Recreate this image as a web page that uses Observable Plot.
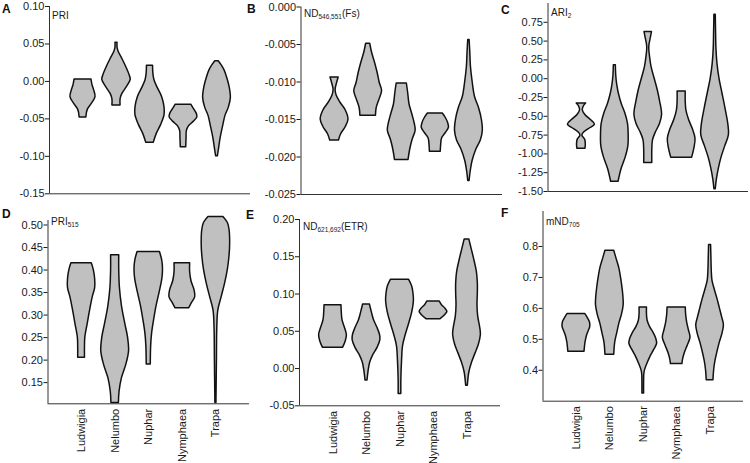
<!DOCTYPE html>
<html>
<head>
<meta charset="utf-8">
<script src="https://cdn.jsdelivr.net/npm/d3@7"></script>
<script src="https://cdn.jsdelivr.net/npm/@observablehq/plot@0.6"></script>
<style>
  body { margin: 0; background: #fff; }
  #root { position: relative; width: 750px; height: 463px; background: #fff; font-family: "Liberation Sans", Arial, sans-serif; color: #222; }
  .panel { position: absolute; overflow: visible; max-width: none !important; }
  .letter { position: absolute; font-weight: bold; font-size: 12px; line-height: 12px; color: #111; }
  .ttl { position: absolute; font-size: 10px; line-height: 12px; color: #1a1a1a; white-space: nowrap; }
  .ttl sub { font-size: 6.5px; vertical-align: baseline; position: relative; top: 2px; }
</style>
</head>
<body>
<div id="root"></div>
<script>
// Categories (x axis)
const species = ["Ludwigia", "Nelumbo", "Nuphar", "Nymphaea", "Trapa"];

// Violin outlines: [value, relative width] from top to bottom, one list per species
const pri = [
  [[0.0027,50],[-0.005,56],[-0.012,66],[-0.021,74],[-0.030,52],[-0.038,28],[-0.048,20]],
  [[0.0516,6],[0.045,6],[0.040,12],[0.032,30],[0.020,56],[0.008,78],[0.002,84],[-0.008,60],[-0.017,34],[-0.024,24],[-0.032,24]],
  [[0.021,18],[0.010,20],[0.002,26],[-0.008,44],[-0.021,72],[-0.035,86],[-0.045,86],[-0.058,66],[-0.070,40],[-0.082,22]],
  [[-0.031,46],[-0.037,62],[-0.043,78],[-0.048,82],[-0.054,60],[-0.060,32],[-0.066,20],[-0.076,18],[-0.088,16]],
  [[0.027,10],[0.022,26],[0.015,44],[0.005,60],[-0.007,74],[-0.022,82],[-0.035,70],[-0.046,50],[-0.060,36],[-0.075,22],[-0.090,12],[-0.100,5]]
];
const fs = [
  [[-0.0094,24],[-0.0102,14],[-0.0110,6],[-0.0118,12],[-0.0128,36],[-0.0138,66],[-0.0150,82],[-0.0160,66],[-0.0170,38],[-0.0178,26]],
  [[-0.0049,12],[-0.0060,22],[-0.0074,40],[-0.0088,56],[-0.0101,68],[-0.0112,82],[-0.0124,66],[-0.0135,50],[-0.0145,46]],
  [[-0.0102,30],[-0.0115,38],[-0.0130,46],[-0.0143,62],[-0.0155,76],[-0.0165,82],[-0.0177,64],[-0.0190,50],[-0.0204,40]],
  [[-0.0142,44],[-0.0148,62],[-0.0155,76],[-0.0161,80],[-0.0168,62],[-0.0175,40],[-0.0185,34],[-0.0193,32]],
  [[-0.0044,4],[-0.0060,8],[-0.0080,12],[-0.0100,22],[-0.0120,36],[-0.0135,60],[-0.0150,76],[-0.0165,82],[-0.0178,70],[-0.0190,44],[-0.0205,22],[-0.0220,10],[-0.0232,4]]
];
const ari2 = [
  [[-0.33,28],[-0.37,14],[-0.42,8],[-0.48,22],[-0.55,56],[-0.61,80],[-0.67,44],[-0.73,10],[-0.76,6],[-0.81,22],[-0.87,26],[-0.93,24]],
  [[0.18,6],[0.05,8],[-0.08,14],[-0.20,24],[-0.33,40],[-0.46,62],[-0.60,78],[-0.75,82],[-0.90,80],[-1.05,64],[-1.20,40],[-1.37,22]],
  [[0.62,22],[0.55,16],[0.42,6],[0.30,10],[0.15,20],[0.00,38],[-0.15,56],[-0.30,70],[-0.48,82],[-0.60,70],[-0.72,44],[-0.82,28],[-0.95,24],[-1.12,24]],
  [[-0.17,24],[-0.30,24],[-0.42,28],[-0.55,44],[-0.67,66],[-0.80,82],[-0.92,76],[-1.05,62]],
  [[0.85,4],[0.60,6],[0.40,8],[0.20,14],[0.00,26],[-0.20,44],[-0.40,62],[-0.60,78],[-0.75,82],[-0.90,60],[-1.05,38],[-1.20,22],[-1.35,10],[-1.47,4]]
];
const pri515 = [
  [[0.415,60],[0.400,72],[0.380,80],[0.360,80],[0.340,66],[0.310,50],[0.280,36],[0.250,22],[0.230,20],[0.205,20]],
  [[0.433,24],[0.40,24],[0.36,28],[0.32,40],[0.28,60],[0.25,76],[0.22,82],[0.19,66],[0.16,40],[0.13,26],[0.105,22]],
  [[0.440,66],[0.420,80],[0.400,84],[0.380,80],[0.350,64],[0.320,46],[0.290,32],[0.260,20],[0.230,14],[0.190,12]],
  [[0.415,46],[0.395,46],[0.375,54],[0.355,72],[0.340,76],[0.325,54],[0.315,40]],
  [[0.518,44],[0.505,70],[0.490,80],[0.460,84],[0.430,80],[0.400,70],[0.370,54],[0.340,34],[0.310,14],[0.270,8],[0.200,6],[0.105,3]]
];
const etr = [
  [[0.085,50],[0.075,52],[0.065,56],[0.055,70],[0.045,82],[0.037,76],[0.028,60]],
  [[0.086,20],[0.075,32],[0.065,44],[0.055,64],[0.045,80],[0.038,82],[0.028,66],[0.018,40],[0.008,22],[-0.004,12],[-0.016,6]],
  [[0.119,54],[0.110,72],[0.100,80],[0.090,82],[0.075,72],[0.060,54],[0.045,34],[0.030,18],[0.010,12],[-0.015,8],[-0.034,8]],
  [[0.090,36],[0.085,50],[0.080,72],[0.076,82],[0.072,70],[0.066,40]],
  [[0.173,14],[0.160,28],[0.145,44],[0.130,58],[0.115,64],[0.100,64],[0.085,62],[0.070,66],[0.055,78],[0.045,82],[0.032,70],[0.020,50],[0.008,30],[-0.005,14],[-0.023,5]]
];
const mnd705 = [
  [[0.582,52],[0.570,66],[0.555,80],[0.540,82],[0.525,72],[0.510,62],[0.490,54],[0.460,48]],
  [[0.786,26],[0.760,40],[0.730,56],[0.700,66],[0.670,74],[0.640,80],[0.610,82],[0.580,72],[0.550,56],[0.520,44],[0.490,32],[0.450,26]],
  [[0.603,22],[0.580,22],[0.560,26],[0.540,40],[0.520,62],[0.500,78],[0.485,82],[0.465,64],[0.445,44],[0.420,24],[0.395,8],[0.360,5],[0.325,5]],
  [[0.603,54],[0.580,56],[0.555,62],[0.530,72],[0.505,82],[0.480,66],[0.455,48],[0.435,38],[0.420,34]],
  [[0.805,6],[0.760,8],[0.720,10],[0.690,14],[0.660,28],[0.630,44],[0.600,58],[0.570,72],[0.545,82],[0.515,72],[0.490,58],[0.460,44],[0.430,32],[0.400,24],[0.368,20]]
];

// Y axis tick values
const ticksA = [0.10, 0.05, 0.00, -0.05, -0.10, -0.15];
const ticksB = [0.000, -0.005, -0.010, -0.015, -0.020, -0.025];
const ticksC = [0.75, 0.50, 0.25, 0.00, -0.25, -0.50, -0.75, -1.00, -1.25, -1.50];
const ticksD = [0.50, 0.45, 0.40, 0.35, 0.30, 0.25, 0.20, 0.15];
const ticksE = [0.20, 0.15, 0.10, 0.05, 0.00, -0.05];
const ticksF = [0.8, 0.7, 0.6, 0.5, 0.4];

const root = document.getElementById("root");

function rowsOf(profiles) {
  const rows = [];
  profiles.forEach((prof, i) => {
    prof.forEach(([v, d]) => rows.push({sp: species[i], v, lo: i - d / 198, hi: i + d / 198}));
  });
  return rows;
}

function panel(cfg) {
  const rows = rowsOf(cfg.data);
  const ymin = cfg.domain[0];
  const chart = Plot.plot({
    width: cfg.width, height: cfg.height,
    marginLeft: cfg.ml, marginRight: cfg.mr, marginTop: cfg.mt, marginBottom: cfg.mb,
    style: {fontSize: "11px", fontFamily: "'Liberation Sans', Arial, sans-serif", color: "#1a1a1a", background: "transparent", overflow: "visible"},
    x: cfg.bottom
      ? {domain: [-1, 5], ticks: [0, 1, 2, 3, 4], tickFormat: i => species[i], tickRotate: -90, tickSize: 0, tickPadding: 5, label: null}
      : {domain: [-1, 5], axis: null},
    y: {domain: cfg.domain, ticks: cfg.ticks, tickFormat: d => d.toFixed(cfg.digits), tickSize: 4, tickPadding: 1, label: null},
    marks: [
      Plot.areaX(rows, {y: "v", x1: "lo", x2: "hi", z: "sp", fill: "#c0c0c0", stroke: "#111", strokeWidth: 1.5, curve: "catmull-rom"}),
      Plot.ruleX([-1], {stroke: "#333", strokeWidth: 1}),
      Plot.ruleY([ymin], {stroke: "#333", strokeWidth: 1})
    ]
  });
  chart.classList.add("panel");
  chart.style.left = cfg.left + "px";
  chart.style.top = cfg.top + "px";
  root.appendChild(chart);
  chart.querySelectorAll("text").forEach(t => {
    t.style.fontSize = "11px";
    t.style.fontFamily = "'Liberation Sans', Arial, sans-serif";
    t.style.fill = "#1a1a1a";
  });
  return chart;
}

panel({data: pri, domain: [-0.15, 0.10], ticks: ticksA, digits: 2, left: 0, top: 0, width: 252, height: 200, ml: 49, mr: 2, mt: 6, mb: 6.7, bottom: false});
panel({data: fs, domain: [-0.025, 0.0], ticks: ticksB, digits: 3, left: 250, top: 0, width: 254, height: 200, ml: 50.5, mr: 2, mt: 6.5, mb: 6, bottom: false});
panel({data: ari2, domain: [-1.5, 1.0], ticks: ticksC, digits: 2, left: 500, top: 0, width: 250, height: 200, ml: 47.5, mr: 2, mt: 3, mb: 9, bottom: false});
panel({data: pri515, domain: [0.103, 0.51], ticks: ticksD, digits: 2, left: 0, top: 205, width: 251, height: 258, ml: 47.5, mr: 2, mt: 15, mb: 59.7, bottom: true});
panel({data: etr, domain: [-0.05, 0.20], ticks: ticksE, digits: 2, left: 250, top: 205, width: 252, height: 258, ml: 49, mr: 2, mt: 14, mb: 57.7, bottom: true});
panel({data: mnd705, domain: [0.30, 0.913], ticks: ticksF, digits: 1, left: 500, top: 205, width: 245, height: 258, ml: 42.5, mr: 2, mt: 6, mb: 62.3, bottom: true});

// Panel letters and titles
const labels = [
  {cls: "letter", html: "A", x: 2, y: 3},
  {cls: "letter", html: "B", x: 247, y: 3},
  {cls: "letter", html: "C", x: 501, y: 4},
  {cls: "letter", html: "D", x: 2, y: 208},
  {cls: "letter", html: "E", x: 246, y: 209},
  {cls: "letter", html: "F", x: 501, y: 207},
  {cls: "ttl", html: "PRI", x: 52, y: 10},
  {cls: "ttl", html: "ND<sub>546,551</sub>(Fs)", x: 304, y: 8},
  {cls: "ttl", html: "ARI<sub>2</sub>", x: 551, y: 7},
  {cls: "ttl", html: "PRI<sub>515</sub>", x: 51, y: 216},
  {cls: "ttl", html: "ND<sub>621,692</sub>(ETR)", x: 303, y: 221},
  {cls: "ttl", html: "mND<sub>705</sub>", x: 546, y: 216}
];
labels.forEach(l => {
  const d = document.createElement("div");
  d.className = l.cls;
  d.innerHTML = l.html;
  d.style.left = l.x + "px";
  d.style.top = l.y + "px";
  root.appendChild(d);
});
</script>
</body>
</html>
